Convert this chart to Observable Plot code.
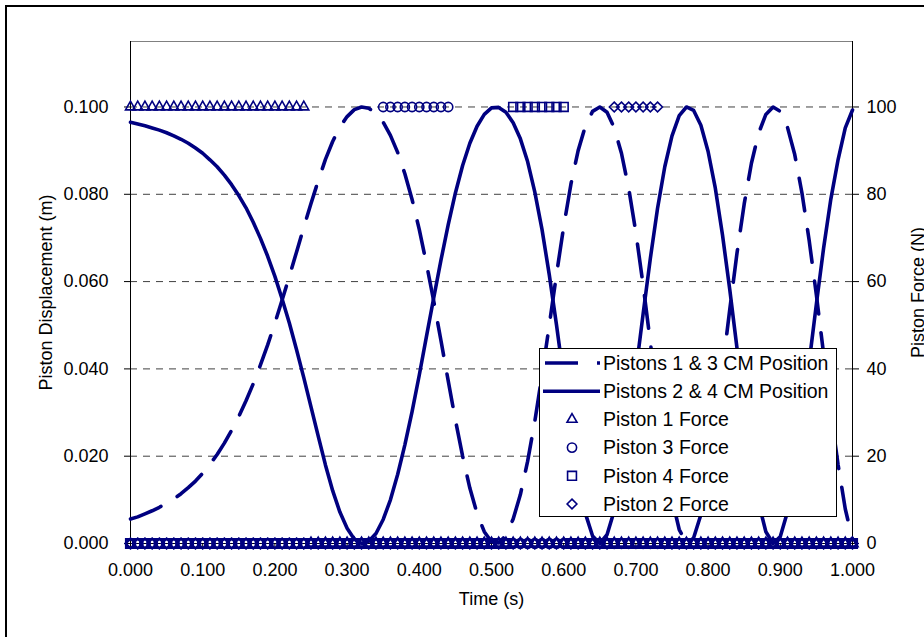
<!DOCTYPE html>
<html><head><meta charset="utf-8">
<script src="https://cdn.jsdelivr.net/npm/d3@7"></script>
<script src="https://cdn.jsdelivr.net/npm/@observablehq/plot@0.6"></script>
<style>
html,body{margin:0;padding:0;background:#fff;overflow:hidden;}
#wrap{position:relative;width:924px;height:637px;overflow:hidden;background:#fff;}
#border{position:absolute;left:5px;top:5px;width:1000px;height:1000px;border:2px solid #000;box-sizing:border-box;}
#chart{position:absolute;left:0;top:0;}
</style></head><body>
<div id="wrap"><div id="border"></div><div id="chart"></div></div>
<script>
// ---- data ----
const time = [0.00,0.01,0.02,0.03,0.04,0.05,0.06,0.07,0.08,0.09,
0.10,0.11,0.12,0.13,0.14,0.15,0.16,0.17,0.18,0.19,
0.20,0.21,0.22,0.23,0.24,0.25,0.26,0.27,0.28,0.29,
0.30,0.31,0.32,0.33,0.34,0.35,0.36,0.37,0.38,0.39,
0.40,0.41,0.42,0.43,0.44,0.45,0.46,0.47,0.48,0.49,
0.50,0.51,0.52,0.53,0.54,0.55,0.56,0.57,0.58,0.59,
0.60,0.61,0.62,0.63,0.64,0.65,0.66,0.67,0.68,0.69,
0.70,0.71,0.72,0.73,0.74,0.75,0.76,0.77,0.78,0.79,
0.80,0.81,0.82,0.83,0.84,0.85,0.86,0.87,0.88,0.89,
0.90,0.91,0.92,0.93,0.94,0.95,0.96,0.97,0.98,0.99,
1.00];
// Pistons 1 & 3 CM Position (m)
const pistons13 = [0.0056,0.0061,0.0068,0.0075,0.0083,0.0092,0.0102,0.0114,0.0128,0.0143,
0.0161,0.0181,0.0204,0.0230,0.0259,0.0291,0.0327,0.0366,0.0409,0.0455,
0.0505,0.0558,0.0612,0.0668,0.0724,0.0779,0.0831,0.0880,0.0921,0.0954,
0.0978,0.0994,0.1000,0.0997,0.0986,0.0965,0.0935,0.0896,0.0847,0.0788,
0.0719,0.0640,0.0555,0.0465,0.0373,0.0283,0.0200,0.0127,0.0069,0.0027,
0.0004,0.0001,0.0019,0.0056,0.0112,0.0188,0.0280,0.0386,0.0500,0.0616,
0.0726,0.0823,0.0900,0.0956,0.0990,0.1000,0.0988,0.0952,0.0894,0.0814,
0.0712,0.0592,0.0461,0.0327,0.0204,0.0102,0.0032,0.0001,0.0013,0.0066,
0.0155,0.0270,0.0401,0.0536,0.0665,0.0778,0.0871,0.0940,0.0983,0.1000,
0.0990,0.0953,0.0891,0.0803,0.0694,0.0569,0.0434,0.0301,0.0181,0.0079,
0.0009];
// Pistons 2 & 4 CM Position (m)
const pistons24 = [0.0965,0.0961,0.0957,0.0952,0.0947,0.0941,0.0934,0.0926,0.0917,0.0906,
0.0894,0.0879,0.0863,0.0844,0.0822,0.0797,0.0769,0.0736,0.0699,0.0658,
0.0612,0.0560,0.0505,0.0444,0.0380,0.0313,0.0246,0.0180,0.0121,0.0072,
0.0035,0.0010,0.0000,0.0005,0.0023,0.0055,0.0100,0.0158,0.0226,0.0302,
0.0386,0.0475,0.0563,0.0649,0.0730,0.0803,0.0866,0.0917,0.0956,0.0983,
0.0998,0.0999,0.0988,0.0964,0.0927,0.0875,0.0805,0.0719,0.0616,0.0501,
0.0378,0.0258,0.0152,0.0069,0.0017,0.0000,0.0020,0.0075,0.0160,0.0269,
0.0395,0.0526,0.0653,0.0768,0.0863,0.0934,0.0980,0.1000,0.0992,0.0958,
0.0898,0.0814,0.0706,0.0582,0.0448,0.0314,0.0192,0.0093,0.0027,0.0000,
0.0016,0.0073,0.0165,0.0283,0.0415,0.0549,0.0677,0.0789,0.0879,0.0952,
0.0993];
// Piston forces (N)
const piston1Force = [100,100,100,100,100,100,100,100,100,100,
100,100,100,100,100,100,100,100,100,100,
100,100,100,100,100,0,0,0,0,0,
0,0,0,0,0,0,0,0,0,0,
0,0,0,0,0,0,0,0,0,0,
0,0,0,0,0,0,0,0,0,0,
0,0,0,0,0,0,0,0,0,0,
0,0,0,0,0,0,0,0,0,0,
0,0,0,0,0,0,0,0,0,0,
0,0,0,0,0,0,0,0,0,0,
0];
const piston3Force = [0,0,0,0,0,0,0,0,0,0,
0,0,0,0,0,0,0,0,0,0,
0,0,0,0,0,0,0,0,0,0,
0,0,0,0,0,100,100,100,100,100,
100,100,100,100,100,0,0,0,0,0,
0,0,0,0,0,0,0,0,0,0,
0,0,0,0,0,0,0,0,0,0,
0,0,0,0,0,0,0,0,0,0,
0,0,0,0,0,0,0,0,0,0,
0,0,0,0,0,0,0,0,0,0,
0];
const piston4Force = [0,0,0,0,0,0,0,0,0,0,
0,0,0,0,0,0,0,0,0,0,
0,0,0,0,0,0,0,0,0,0,
0,0,0,0,0,0,0,0,0,0,
0,0,0,0,0,0,0,0,0,0,
0,0,0,100,100,100,100,100,100,100,
100,0,0,0,0,0,0,0,0,0,
0,0,0,0,0,0,0,0,0,0,
0,0,0,0,0,0,0,0,0,0,
0,0,0,0,0,0,0,0,0,0,
0];
const piston2Force = [0,0,0,0,0,0,0,0,0,0,
0,0,0,0,0,0,0,0,0,0,
0,0,0,0,0,0,0,0,0,0,
0,0,0,0,0,0,0,0,0,0,
0,0,0,0,0,0,0,0,0,0,
0,0,0,0,0,0,0,0,0,0,
0,0,0,0,0,0,0,100,100,100,
100,100,100,100,0,0,0,0,0,0,
0,0,0,0,0,0,0,0,0,0,
0,0,0,0,0,0,0,0,0,0,
0];
const timeTicks = [0,0.1,0.2,0.3,0.4,0.5,0.6,0.7,0.8,0.9,1.0];
const dispTicks = [0,0.02,0.04,0.06,0.08,0.1];
const forceTicks = [0,20,40,60,80,100];
const seriesNames = ["Pistons 1 & 3 CM Position","Pistons 2 & 4 CM Position","Piston 1 Force","Piston 3 Force","Piston 4 Force","Piston 2 Force"];
const xLabel = "Time (s)", yLabel = "Piston Displacement (m)", y2Label = "Piston Force (N)";

// ---- chart ----
const NAVY = "#000080";
const DISP_MAX = 0.115;             // left axis top
const F2D = 0.1 / 100;              // right axis 100 N aligns with 0.100 m
const rows = time.map((t, i) => ({t, d13: pistons13[i], d24: pistons24[i],
  f1: piston1Force[i], f3: piston3Force[i], f4: piston4Force[i], f2: piston2Force[i]}));
const FONT = "'Liberation Sans', Arial, sans-serif";
const MSW = 1.6;
const markerSpec = [
  {key: "f1", symbol: "triangle", r: 3.7},
  {key: "f3", symbol: "circle", r: 4.6},
  {key: "f4", symbol: "square", r: 5.0},
  {key: "f2", symbol: "diamond2", r: 4.4}
];

const chart = Plot.plot({
  width: 924, height: 637,
  marginLeft: 130, marginRight: 72, marginTop: 41, marginBottom: 94,
  style: {fontFamily: FONT, fontSize: "18px", color: "#000", background: "transparent", overflow: "visible"},
  x: {domain: [0, 1]},
  y: {domain: [0, DISP_MAX]},
  marks: [
    Plot.frame({stroke: "#808080"}),
    Plot.ruleY(dispTicks.filter(v => v > 0), {stroke: "#404040", strokeDasharray: "7,6"}),
    Plot.ruleX([0, 1], {stroke: "#000"}),
    Plot.ruleY([0], {stroke: "#000"}),
    Plot.axisY(dispTicks, {anchor: "left", tickSize: 6, tickPadding: 16, tickFormat: d3.format(".3f"), label: null, fontSize: 18}),
    Plot.axisY(forceTicks.map(f => f * F2D), {anchor: "right", tickSize: 6, tickPadding: 8, tickFormat: d => String(Math.round(d / F2D)), label: null, fontSize: 18}),
    Plot.axisX(timeTicks, {anchor: "bottom", tickSize: 6, tickPadding: 14, tickFormat: d3.format(".3f"), label: null, fontSize: 18}),
    Plot.line(rows, {x: "t", y: "d13", stroke: NAVY, strokeWidth: 3.6, strokeDasharray: "33,19"}),
    Plot.line(rows, {x: "t", y: "d24", stroke: NAVY, strokeWidth: 3.6}),
    ...markerSpec.map(m => Plot.dot(rows, {x: "t", y: d => d[m.key] * F2D, symbol: m.symbol, r: m.r, stroke: NAVY,
      strokeWidth: d => d[m.key] === 0 ? 2.3 : MSW, fill: "none"})),
    Plot.text([xLabel], {frameAnchor: "bottom", dy: 61, textAnchor: "middle", fontSize: 18, text: d => d}),
    Plot.text([yLabel], {frameAnchor: "left", dx: -84, rotate: -90, textAnchor: "middle", fontSize: 18, text: d => d}),
    Plot.text([y2Label], {frameAnchor: "right", dx: 66, rotate: -90, textAnchor: "middle", fontSize: 18, text: d => d})
  ]
});
document.getElementById("chart").appendChild(chart);

// ---- legend ----
const svg = d3.select(chart);
const lg = svg.append("g").attr("font-family", FONT).attr("font-size", 19.5).attr("text-anchor", "start");
lg.append("rect").attr("x", 539.5).attr("y", 348.5).attr("width", 297).attr("height", 168)
  .attr("fill", "#fff").attr("stroke", "#000").attr("stroke-width", 1);
const symMap = {triangle: d3.symbolTriangle, circle: d3.symbolCircle, square: d3.symbolSquare, diamond2: d3.symbolDiamond2};
seriesNames.forEach((name, i) => {
  const cy = 363 + i * 28.2;
  if (i === 0) {
    lg.append("line").attr("x1", 545).attr("x2", 600).attr("y1", cy).attr("y2", cy)
      .attr("stroke", NAVY).attr("stroke-width", 3.6).attr("stroke-dasharray", "33,19");
  } else if (i === 1) {
    lg.append("line").attr("x1", 543).attr("x2", 600).attr("y1", cy).attr("y2", cy)
      .attr("stroke", NAVY).attr("stroke-width", 3.6);
  } else {
    const m = markerSpec[i - 2];
    lg.append("path").attr("transform", `translate(572,${cy})`)
      .attr("d", d3.symbol(symMap[m.symbol], Math.PI * m.r * m.r)())
      .attr("fill", "none").attr("stroke", NAVY).attr("stroke-width", MSW);
  }
  lg.append("text").attr("x", 603).attr("y", cy).attr("dy", "0.35em").attr("fill", "#000").text(name);
});
</script>
</body></html>
